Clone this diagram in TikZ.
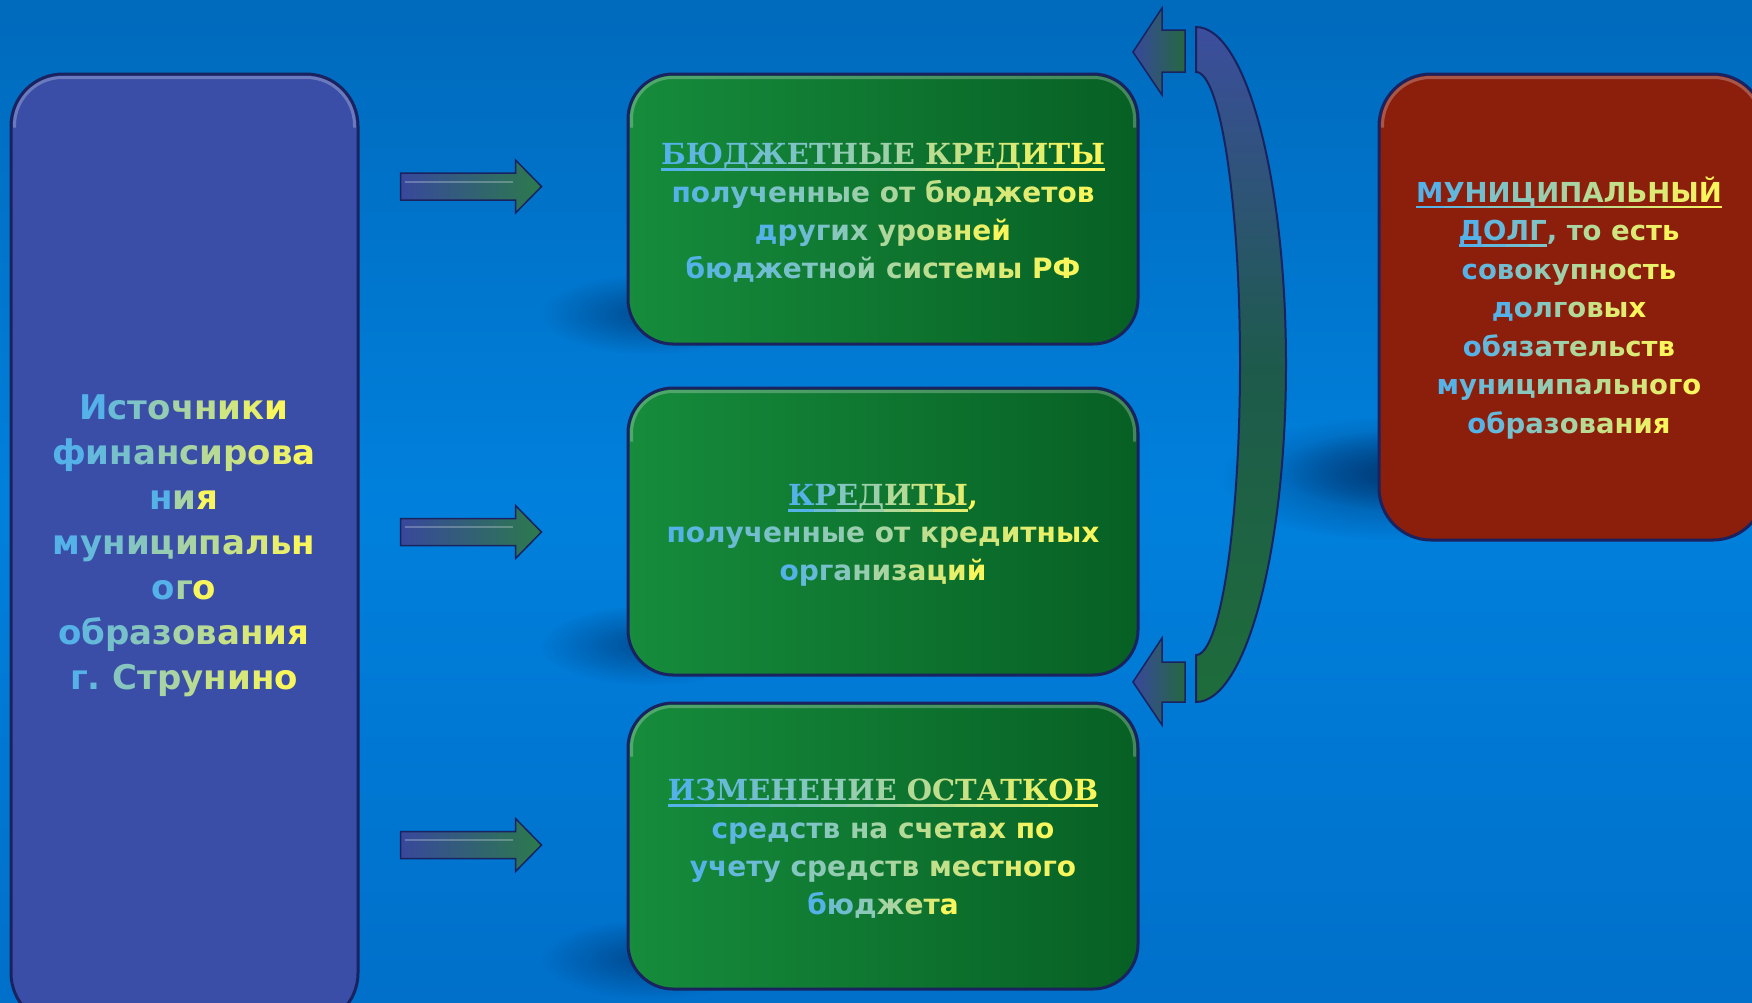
\documentclass[tikz,border=0pt]{standalone}
\usepackage{fontspec}
\setmainfont{DejaVu Sans}
\newfontfamily\serifhead{DejaVu Serif}
\usetikzlibrary{fadings,calc}
\definecolor{gb}{RGB}{85,178,232}
\definecolor{gy}{RGB}{248,246,92}
\definecolor{navy}{RGB}{26,34,96}
\definecolor{bgtop}{RGB}{0,106,188}
\definecolor{bgmid}{RGB}{0,128,220}
\definecolor{bgbot}{RGB}{0,112,202}
\definecolor{lbox}{RGB}{58,78,168}
\definecolor{gL}{RGB}{22,140,60}
\definecolor{gD}{RGB}{7,96,36}
\definecolor{rbox}{RGB}{140,30,12}
\definecolor{arB}{RGB}{56,72,156}
\definecolor{arG}{RGB}{44,122,76}
\definecolor{bandB}{RGB}{60,78,158}
\definecolor{bandM}{RGB}{30,90,76}
\definecolor{bandG}{RGB}{30,108,58}
\definecolor{shd}{RGB}{0,45,100}
\tikzfading[name=softcirc, inner color=transparent!0, outer color=transparent!100]
\frenchspacing

\ExplSyntaxOn
\int_new:N \l__gr_n_int
\int_new:N \l__gr_i_int
\bool_new:N \l__gr_ul_bool
\str_new:N \l__gr_str
\tl_new:N \l__gr_col_tl
\box_new:N \l__gr_box
\NewDocumentCommand \gradline { m }
  {
    \str_set:Nn \l__gr_str {#1}
    \int_zero:N \l__gr_n_int
    \str_map_inline:Nn \l__gr_str
      { \str_if_eq:nnF {##1} {|} { \int_incr:N \l__gr_n_int } }
    \int_zero:N \l__gr_i_int
    \bool_set_false:N \l__gr_ul_bool
    \str_map_inline:Nn \l__gr_str
      {
        \str_if_eq:nnTF {##1} {|}
          {
            \bool_if:NTF \l__gr_ul_bool
              { \bool_set_false:N \l__gr_ul_bool }
              { \bool_set_true:N \l__gr_ul_bool }
          }
          {
            \tl_set:Nx \l__gr_col_tl
              { gy ! \int_eval:n { 100 * \l__gr_i_int / \int_max:nn { \l__gr_n_int - 1 } { 1 } } ! gb }
            \int_incr:N \l__gr_i_int
            \group_begin:
              \exp_args:NV \color \l__gr_col_tl
              \scan_stop:
              \bool_if:NTF \l__gr_ul_bool
                {
                  \hbox_set:Nn \l__gr_box { \scan_stop: ##1 }
                  \rlap { \rule [-6pt] { \box_wd:N \l__gr_box } { 2.6pt } }
                  \box_use:N \l__gr_box
                }
                { \scan_stop: ##1 }
            \group_end:
          }
      }
  }
\ExplSyntaxOff

\begin{document}
\begin{tikzpicture}[x=1pt,y=-1pt,
  box/.style={draw=navy, line width=3pt, inner sep=0pt},
  hl/.style={draw=white, draw opacity=0.25, line width=3pt},
  txt/.style={align=center, inner sep=0pt, font=\bfseries\fontsize{28}{38}\selectfont},
  head/.style={inner sep=0pt, font=\serifhead\bfseries\fontsize{29}{38}\selectfont},
  blockarrow/.style={draw=navy, line width=1.5pt, left color=arB, right color=arG},
  headarrow/.style={draw=navy, line width=1.5pt, left color=arB, right color=arG!85!black},
  shadowblob/.style={fill=shd, fill opacity=0.6, path fading=softcirc},
  rarrow/.pic={\path[blockarrow] (-70,-13.5) -- (45,-13.5) -- (45,-26.5) -- (71,0) -- (45,26.5) -- (45,13.5) -- (-70,13.5) -- cycle;
               \draw[white, draw opacity=0.25, line width=2pt] (-66,-5) -- (42,-5);}
]
\useasboundingbox (0,0) rectangle (1752,1002);
\clip (0,0) rectangle (1752,1002);
\fill[top color=bgtop, bottom color=bgbot, middle color=bgmid] (0,0) rectangle (1752,1002);

% soft shadows
\foreach \dy in {0,331,645} {
  \path[shadowblob] (650,\dy+314) ellipse[x radius=110, y radius=40];
}
\path[shadowblob] (1390,478) ellipse[x radius=170, y radius=62];
\path[shadowblob] (1400,470) ellipse[x radius=120, y radius=40];

% boxes
\node[box, fill=lbox, minimum width=347pt, minimum height=951pt, rounded corners=52pt] (L) at (184.5,549.5) {};
\node[box, left color=gL, right color=gD, minimum width=510pt, minimum height=270pt, rounded corners=45pt] (G1) at (883,209) {};
\node[box, left color=gL, right color=gD, minimum width=510pt, minimum height=287pt, rounded corners=45pt] (G2) at (883,531.5) {};
\node[box, left color=gL, right color=gD, minimum width=510pt, minimum height=286pt, rounded corners=45pt] (G3) at (883,846) {};
\node[box, fill=rbox, minimum width=386pt, minimum height=466pt, rounded corners=52pt] (R) at (1572,307) {};

% top highlights
\foreach \b/\r in {L/48,G1/41,G2/41,G3/41,R/48} {
  \draw[hl, rounded corners=\r pt] ($(\b.north west)+(5,55)$) -- ($(\b.north west)+(5,5)$) -- ($(\b.north east)+(-5,5)$) -- ($(\b.north east)+(-5,55)$);
}

% right arrows
\pic (a1) at (470.5,186.5) {rarrow};
\pic (a2) at (470.5,532) {rarrow};
\pic (a3) at (470.5,845) {rarrow};

% curved band
\path[draw=navy, line width=2pt, top color=bandB, bottom color=bandG, middle color=bandM]
  (1196,27) arc[start angle=-90, end angle=90, x radius=90, y radius=337.5]
  -- (1196,655) arc[start angle=90, end angle=-90, x radius=44, y radius=291.5] -- cycle;
\path[headarrow] (1133,52) -- (1162,8) -- (1162,30) -- (1185,30) -- (1185,72) -- (1162,72) -- (1162,95) -- cycle;
\path[headarrow] (1133,682) -- (1162,638) -- (1162,662) -- (1185,662) -- (1185,702) -- (1162,702) -- (1162,725) -- cycle;

% texts
\node[txt, font=\bfseries\fontsize{34}{45}\selectfont] (Lt) at (184,546)
  {\gradline{Источники}\\\gradline{финансирова}\\\gradline{ния}\\\gradline{муниципальн}\\\gradline{ого}\\\gradline{образования}\\\gradline{г. Струнино}};

\node[head] (H1) at (883,157) {\gradline{|БЮДЖЕТНЫЕ КРЕДИТЫ|}};
\node[txt] (B1) at (883,231) {\gradline{полученные от бюджетов}\\\gradline{других уровней}\\\gradline{бюджетной системы РФ}};

\node[head] (H2) at (883,498) {\gradline{|КРЕДИТЫ|,}};
\node[txt] (B2) at (883,557) {\gradline{полученные от кредитных}\\\gradline{организаций}};

\node[head] (H3) at (883,793) {\gradline{|ИЗМЕНЕНИЕ ОСТАТКОВ|}};
\node[txt] (B3) at (883,871) {\gradline{средств на счетах по}\\\gradline{учету средств местного}\\\gradline{бюджета}};

\node[txt, font=\bfseries\fontsize{27.5}{38.5}\selectfont] (Rt) at (1569,308)
  {\gradline{|МУНИЦИПАЛЬНЫЙ|}\\\gradline{|ДОЛГ|, то есть}\\\gradline{совокупность}\\\gradline{долговых}\\\gradline{обязательств}\\\gradline{муниципального}\\\gradline{образования}};
\end{tikzpicture}
\end{document}
